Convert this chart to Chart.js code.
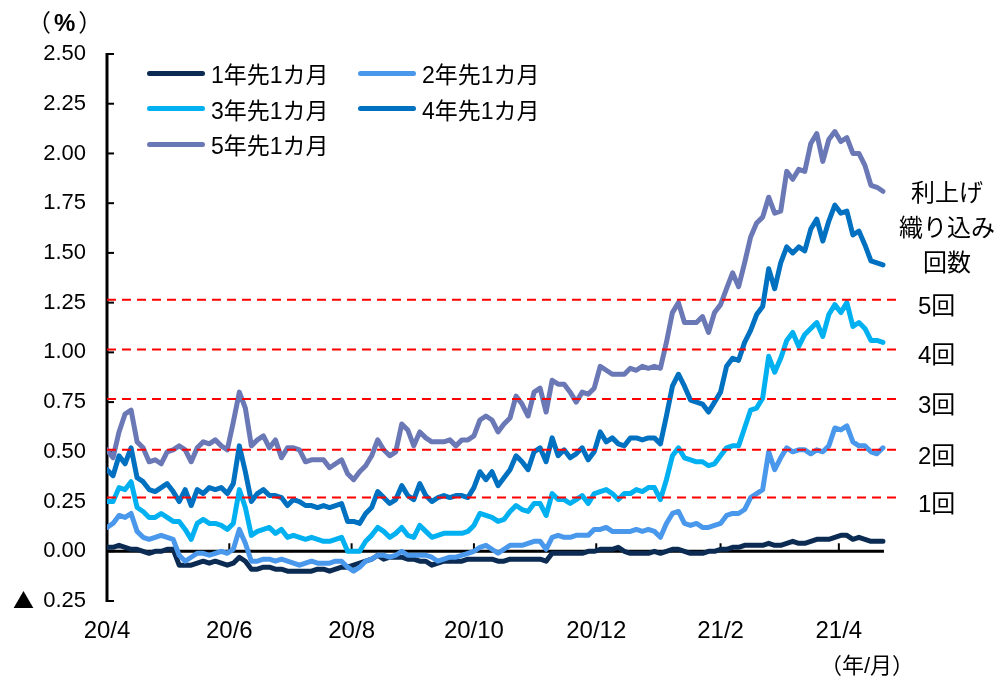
<!DOCTYPE html>
<html lang="ja">
<head>
<meta charset="utf-8">
<title>フォワードレート</title>
<script src="https://cdn.jsdelivr.net/npm/chart.js@4.4.1/dist/chart.umd.min.js"></script>
<style>
  html, body { margin: 0; padding: 0; background: #fff; }
  #wrap {
    position: relative; width: 996px; height: 677px; overflow: hidden;
    font-family: "Liberation Sans", "Noto Sans CJK JP", sans-serif; color: #000;
  }
  #chart { position: absolute; left: 0; top: 0; }
  .note { position: absolute; white-space: nowrap; line-height: 1; }
  .item { position: absolute; display: flex; align-items: center; height: 28px; font-size: 23px; white-space: nowrap; }
  .swatch { width: 58px; height: 5px; border-radius: 2.5px; margin-right: 6px; }
</style>
</head>
<body>
<div id="wrap">
  <canvas id="chart" width="996" height="677"></canvas>
  <div class="note" style="left:27px; top:11px; font-size:24px; letter-spacing:3px;">（<b>%</b>）</div>
  <div class="note" style="left:820px; top:655px; font-size:22px;">（年/月）</div>
  <div class="note" style="left:887px; top:175px; width:120px; text-align:center; font-size:24px; line-height:35px;">利上げ<br>織り込み<br>回数</div>
  <div class="note" style="left:13px; top:589px; font-size:21px; font-family:'Noto Sans CJK JP', sans-serif;">▲</div>
  <div id="legend"></div>
  <div id="hikes"></div>
</div>
<script>
// days since 2020-04-01, sampled every 3 days
const days = [
  0, 3, 6, 9, 12, 15, 18, 21, 24, 27,
  30, 33, 36, 39, 42, 45, 48, 51, 54, 57,
  60, 63, 66, 69, 72, 75, 78, 81, 84, 87,
  90, 93, 96, 99, 102, 105, 108, 111, 114, 117,
  120, 123, 126, 129, 132, 135, 138, 141, 144, 147,
  150, 153, 156, 159, 162, 165, 168, 171, 174, 177,
  180, 183, 186, 189, 192, 195, 198, 201, 204, 207,
  210, 213, 216, 219, 222, 225, 228, 231, 234, 237,
  240, 243, 246, 249, 252, 255, 258, 261, 264, 267,
  270, 273, 276, 279, 282, 285, 288, 291, 294, 297,
  300, 303, 306, 309, 312, 315, 318, 321, 324, 327,
  330, 333, 336, 339, 342, 345, 348, 351, 354, 357,
  360, 363, 366, 369, 372, 375, 378, 381, 384, 387
];

const fwd1y = [
  0.02, 0.02, 0.03, 0.02, 0.01, 0.01, 0.00, -0.01, 0.00, 0.00,
  0.01, 0.01, -0.07, -0.07, -0.07, -0.06, -0.05, -0.06, -0.05, -0.06,
  -0.07, -0.06, -0.03, -0.05, -0.09, -0.09, -0.08, -0.08, -0.09, -0.09,
  -0.10, -0.10, -0.10, -0.10, -0.10, -0.09, -0.09, -0.10, -0.09, -0.08,
  -0.08, -0.07, -0.06, -0.05, -0.04, -0.02, -0.04, -0.03, -0.03, -0.03,
  -0.04, -0.04, -0.05, -0.05, -0.07, -0.06, -0.05, -0.05, -0.05, -0.05,
  -0.04, -0.04, -0.04, -0.04, -0.04, -0.05, -0.05, -0.04, -0.04, -0.04,
  -0.04, -0.04, -0.04, -0.05, -0.01, -0.01, -0.01, -0.01, -0.01, -0.01,
  0.00, 0.00, 0.01, 0.01, 0.01, 0.02, 0.00, -0.01, -0.01, -0.01,
  -0.01, 0.00, -0.01, 0.00, 0.01, 0.01, 0.00, -0.01, -0.01, -0.01,
  0.00, 0.00, 0.01, 0.01, 0.02, 0.02, 0.03, 0.03, 0.03, 0.03,
  0.04, 0.03, 0.03, 0.04, 0.05, 0.04, 0.04, 0.05, 0.06, 0.06,
  0.06, 0.07, 0.08, 0.08, 0.06, 0.07, 0.06, 0.05, 0.05, 0.05
];

const fwd2y = [
  0.12, 0.14, 0.18, 0.17, 0.19, 0.10, 0.07, 0.06, 0.07, 0.08,
  0.07, 0.06, -0.02, -0.05, -0.03, -0.01, -0.01, -0.02, -0.01, 0.00,
  -0.01, 0.01, 0.11, 0.04, -0.05, -0.05, -0.04, -0.04, -0.05, -0.04,
  -0.05, -0.06, -0.07, -0.06, -0.05, -0.06, -0.06, -0.06, -0.05, -0.05,
  -0.08, -0.10, -0.08, -0.05, -0.04, -0.02, -0.02, -0.03, -0.02, 0.00,
  -0.02, -0.02, -0.02, -0.02, -0.03, -0.05, -0.04, -0.03, -0.03, -0.02,
  -0.01, 0.00, 0.02, 0.03, 0.01, -0.01, 0.01, 0.03, 0.03, 0.03,
  0.04, 0.05, 0.05, 0.01, 0.07, 0.08, 0.07, 0.07, 0.08, 0.08,
  0.08, 0.11, 0.11, 0.12, 0.10, 0.10, 0.10, 0.10, 0.11, 0.10,
  0.11, 0.10, 0.07, 0.14, 0.19, 0.20, 0.14, 0.13, 0.14, 0.12,
  0.12, 0.13, 0.14, 0.18, 0.19, 0.19, 0.21, 0.27, 0.29, 0.31,
  0.50, 0.41, 0.47, 0.52, 0.50, 0.51, 0.51, 0.49, 0.51, 0.50,
  0.53, 0.62, 0.61, 0.63, 0.55, 0.53, 0.53, 0.50, 0.49, 0.52
];

const fwd3y = [
  0.25, 0.25, 0.32, 0.31, 0.35, 0.22, 0.20, 0.17, 0.17, 0.19,
  0.17, 0.15, 0.15, 0.11, 0.06, 0.14, 0.16, 0.14, 0.14, 0.13,
  0.11, 0.14, 0.31, 0.22, 0.08, 0.10, 0.11, 0.12, 0.09, 0.11,
  0.07, 0.08, 0.07, 0.06, 0.07, 0.06, 0.05, 0.05, 0.06, 0.07,
  0.00, 0.00, 0.00, 0.05, 0.08, 0.12, 0.10, 0.07, 0.09, 0.12,
  0.08, 0.07, 0.13, 0.10, 0.07, 0.08, 0.09, 0.09, 0.09, 0.09,
  0.10, 0.13, 0.19, 0.18, 0.17, 0.15, 0.16, 0.20, 0.23, 0.21,
  0.20, 0.24, 0.24, 0.18, 0.29, 0.26, 0.26, 0.24, 0.26, 0.28,
  0.24, 0.29, 0.30, 0.31, 0.29, 0.26, 0.29, 0.29, 0.31, 0.30,
  0.32, 0.32, 0.26, 0.36, 0.48, 0.52, 0.47, 0.46, 0.45, 0.45,
  0.43, 0.44, 0.48, 0.52, 0.53, 0.53, 0.62, 0.71, 0.72, 0.77,
  0.98, 0.90, 0.97, 1.06, 1.10, 1.03, 1.09, 1.12, 1.15, 1.08,
  1.19, 1.24, 1.20, 1.25, 1.13, 1.15, 1.12, 1.06, 1.06, 1.05
];

const fwd4y = [
  0.41, 0.38, 0.48, 0.44, 0.52, 0.37, 0.35, 0.31, 0.30, 0.32,
  0.34, 0.30, 0.25, 0.31, 0.23, 0.31, 0.29, 0.32, 0.31, 0.32,
  0.29, 0.34, 0.53, 0.40, 0.25, 0.29, 0.31, 0.28, 0.28, 0.27,
  0.23, 0.26, 0.25, 0.23, 0.23, 0.22, 0.23, 0.22, 0.23, 0.24,
  0.15, 0.15, 0.14, 0.19, 0.22, 0.30, 0.27, 0.24, 0.26, 0.33,
  0.28, 0.26, 0.34, 0.28, 0.25, 0.27, 0.28, 0.27, 0.28, 0.28,
  0.27, 0.32, 0.40, 0.36, 0.40, 0.33, 0.37, 0.41, 0.48, 0.45,
  0.41, 0.50, 0.52, 0.45, 0.57, 0.48, 0.51, 0.47, 0.49, 0.52,
  0.46, 0.50, 0.60, 0.55, 0.57, 0.54, 0.53, 0.57, 0.57, 0.56,
  0.57, 0.57, 0.54, 0.68, 0.83, 0.89, 0.83, 0.76, 0.75, 0.74,
  0.70, 0.75, 0.80, 0.93, 0.97, 0.96, 1.05, 1.11, 1.19, 1.23,
  1.42, 1.32, 1.45, 1.53, 1.50, 1.53, 1.51, 1.62, 1.67, 1.56,
  1.66, 1.74, 1.70, 1.71, 1.59, 1.61, 1.54, 1.46, 1.45, 1.44
];

const fwd5y = [
  0.51, 0.47, 0.60, 0.69, 0.71, 0.55, 0.52, 0.45, 0.46, 0.44,
  0.50, 0.51, 0.53, 0.51, 0.45, 0.52, 0.55, 0.54, 0.56, 0.53,
  0.51, 0.65, 0.80, 0.72, 0.53, 0.56, 0.58, 0.52, 0.56, 0.47,
  0.52, 0.52, 0.51, 0.45, 0.46, 0.46, 0.46, 0.42, 0.44, 0.46,
  0.39, 0.36, 0.40, 0.43, 0.48, 0.56, 0.51, 0.48, 0.50, 0.64,
  0.61, 0.53, 0.60, 0.57, 0.55, 0.55, 0.55, 0.56, 0.53, 0.56,
  0.56, 0.58, 0.66, 0.68, 0.66, 0.60, 0.64, 0.67, 0.78, 0.74,
  0.68, 0.80, 0.82, 0.70, 0.86, 0.84, 0.84, 0.80, 0.75, 0.80,
  0.79, 0.82, 0.93, 0.91, 0.89, 0.89, 0.89, 0.92, 0.91, 0.93,
  0.92, 0.93, 0.92, 1.05, 1.20, 1.25, 1.15, 1.15, 1.15, 1.18,
  1.10, 1.20, 1.24, 1.32, 1.40, 1.33, 1.45, 1.58, 1.65, 1.68,
  1.78, 1.70, 1.71, 1.91, 1.87, 1.92, 1.91, 2.05, 2.10, 1.96,
  2.07, 2.11, 2.06, 2.08, 2.00, 2.00, 1.94, 1.84, 1.83, 1.81
];

const seriesNames = ['1年先1カ月', '2年先1カ月', '3年先1カ月', '4年先1カ月', '5年先1カ月'];
const seriesColors = ['#0B2B52', '#4A98EC', '#00B0F0', '#0070C0', '#6B78B6'];
const seriesValues = [fwd1y, fwd2y, fwd3y, fwd4y, fwd5y];

// implied rate-hike levels (dashed guides)
const hikeLevels = [0.27, 0.51, 0.765, 1.015, 1.265];
const hikeLabels = ['1回', '2回', '3回', '4回', '5回'];

const monthTicks = [0, 61, 122, 183, 244, 306, 365];
const monthLabels = ['20/4', '20/6', '20/8', '20/10', '20/12', '21/2', '21/4'];

const fontFamily = '"Liberation Sans", "Noto Sans CJK JP", sans-serif';
const lastDay = days[days.length - 1];
const guideEnd = 395;

const datasets = seriesNames.map((name, i) => ({
  label: name,
  data: days.map((d, j) => ({ x: d, y: seriesValues[i][j] })),
  borderColor: seriesColors[i],
  borderWidth: 5,
  borderJoinStyle: 'round',
  borderCapStyle: 'round',
  pointRadius: 0,
  tension: 0,
  order: 5 - i
}));

hikeLevels.forEach(v => {
  datasets.push({
    label: 'hike',
    data: [{ x: 0, y: v }, { x: guideEnd, y: v }],
    borderColor: '#FF0000',
    borderWidth: 2,
    borderDash: [9, 6],
    pointRadius: 0,
    order: 0
  });
});

// axis lines and inward tick marks; x axis sits on the zero line
const axisMarks = {
  id: 'axisMarks',
  beforeDatasetsDraw(chart) {
    const { ctx, scales: { x, y } } = chart;
    const left = x.getPixelForValue(0);
    const zeroY = y.getPixelForValue(0);
    const seg = (x1, y1, x2, y2) => {
      ctx.beginPath(); ctx.moveTo(x1, y1); ctx.lineTo(x2, y2); ctx.stroke();
    };
    ctx.save();
    ctx.strokeStyle = '#000';
    ctx.lineWidth = 3;
    seg(left, y.getPixelForValue(y.max) - 1, left, y.getPixelForValue(y.min) + 1);
    seg(left, zeroY, x.getPixelForValue(lastDay) + 1, zeroY);
    ctx.lineWidth = 2;
    y.ticks.forEach(t => {
      const py = y.getPixelForValue(t.value);
      seg(left, py, left + 7, py);
    });
    monthTicks.slice(1).forEach(d => {
      const px = x.getPixelForValue(d);
      seg(px, zeroY, px, zeroY - 8);
    });
    ctx.restore();
  }
};

const chart = new Chart(document.getElementById('chart'), {
  type: 'line',
  data: { datasets },
  plugins: [axisMarks],
  options: {
    responsive: false,
    animation: false,
    events: [],
    layout: { padding: { top: 54, right: 97, bottom: 0, left: 0 } },
    plugins: { legend: { display: false }, tooltip: { enabled: false } },
    scales: {
      x: {
        type: 'linear',
        min: 0,
        max: guideEnd,
        grid: { display: false, drawTicks: false },
        border: { display: false },
        afterBuildTicks: s => { s.ticks = monthTicks.map(v => ({ value: v })); },
        afterFit: s => { s.height = 76; },
        ticks: {
          autoSkip: false,
          maxRotation: 0,
          padding: 16,
          color: '#000',
          font: { family: fontFamily, size: 24 },
          callback: v => monthLabels[monthTicks.indexOf(v)] ?? ''
        }
      },
      y: {
        min: -0.25,
        max: 2.5,
        grid: { display: false, drawTicks: false },
        border: { display: false },
        afterFit: s => { s.width = 107; },
        ticks: {
          stepSize: 0.25,
          padding: 21,
          color: '#000',
          font: { family: fontFamily, size: 22 },
          // negatives carry the ▲ mark drawn beside the axis
          callback: v => Math.abs(v).toFixed(2)
        }
      }
    }
  }
});

// legend: two columns
const legend = document.getElementById('legend');
seriesNames.forEach((name, i) => {
  const item = document.createElement('div');
  item.className = 'item';
  item.style.left = (147 + (i % 2) * 211) + 'px';
  item.style.top = (59 + Math.floor(i / 2) * 35.5) + 'px';
  item.innerHTML = `<span class="swatch" style="background:${seriesColors[i]}"></span><span>${name}</span>`;
  legend.appendChild(item);
});

// labels next to the dashed guides
const hikes = document.getElementById('hikes');
hikeLevels.forEach((v, i) => {
  const el = document.createElement('div');
  el.className = 'note';
  el.style.fontSize = '24px';
  el.style.left = '918px';
  el.style.top = (chart.scales.y.getPixelForValue(v) - 6) + 'px';
  el.textContent = hikeLabels[i];
  hikes.appendChild(el);
});
</script>
</body>
</html>
